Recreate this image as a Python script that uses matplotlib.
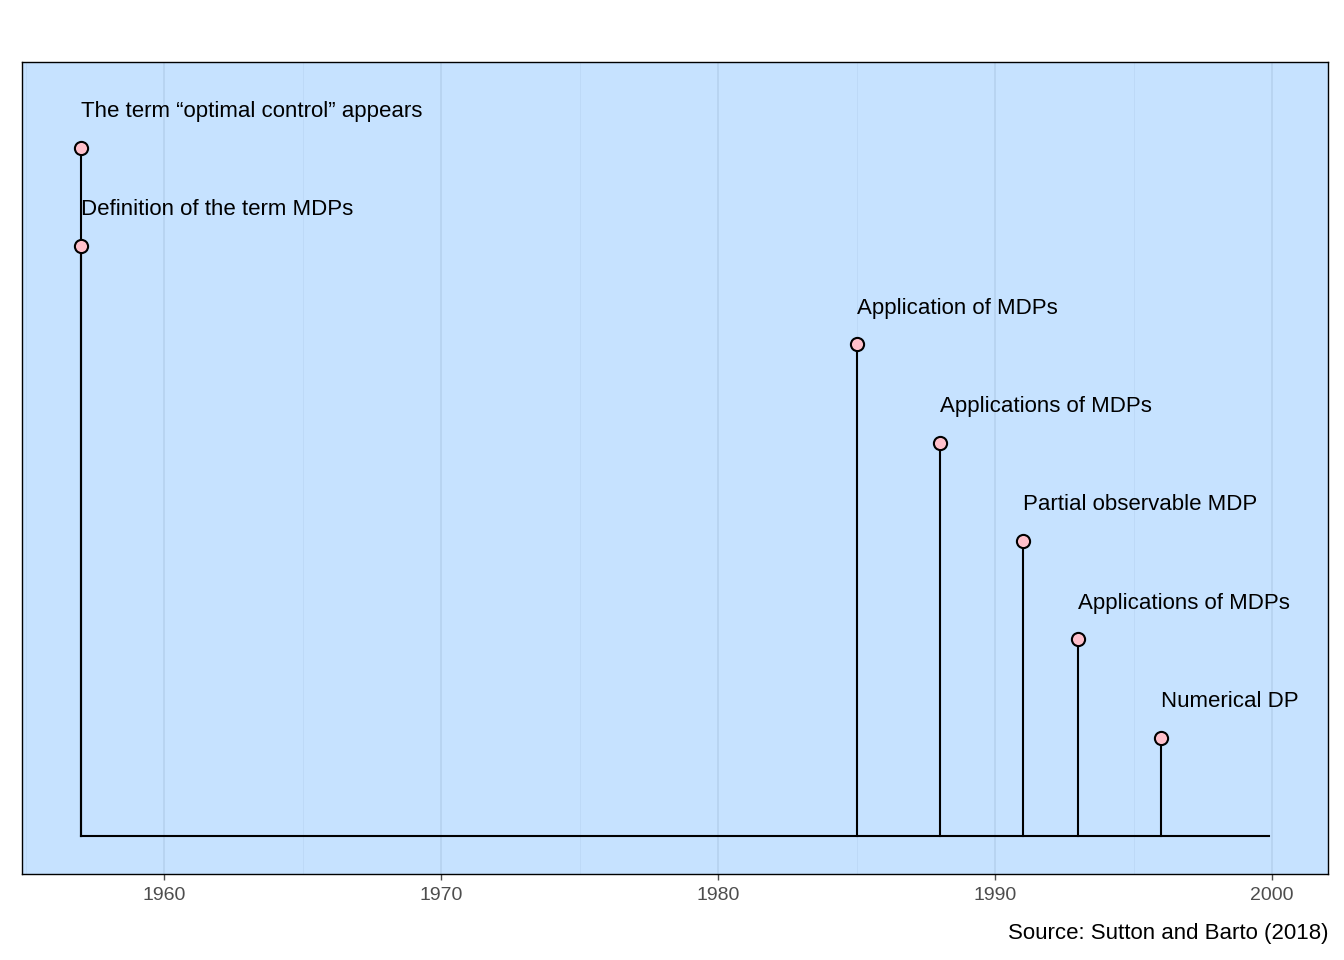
import matplotlib
matplotlib.use("Agg")
import matplotlib.pyplot as plt

plt.rcParams['font.family'] = ['Liberation Sans', 'DejaVu Sans']

years = [1957, 1957, 1985, 1988, 1991, 1993, 1996]
levels = [7, 6, 5, 4, 3, 2, 1]
labels = ['The term \u201coptimal control\u201d appears', 'Definition of the term MDPs',
          'Application of MDPs', 'Applications of MDPs', 'Partial observable MDP',
          'Applications of MDPs', 'Numerical DP']
line_start, line_end = 1957, 1999.9
major_ticks = [1960, 1970, 1980, 1990, 2000]
minor_ticks = [1955, 1965, 1975, 1985, 1995]

fig = plt.figure(figsize=(13.44, 9.6), dpi=100)
ax = fig.add_axes([22/1344, 86/960, 1306/1344, 812/960])
ax.set_facecolor('#C6E2FF')
ax.set_xlim(1954.87, 2002.02)
ax.set_ylim(-0.386, 7.87)

for t in major_ticks:
    ax.axvline(t, color='#B4D0EE', lw=1.1, zorder=0)
for t in minor_ticks:
    ax.axvline(t, color='#BCD8F6', lw=0.6, zorder=0)

ax.plot([line_start, line_end], [0, 0], color='black', lw=1.5, zorder=2)
for yr, lv, lb in zip(years, levels, labels):
    ax.plot([yr, yr], [0, lv], color='black', lw=1.5, zorder=2)
    ax.scatter([yr], [lv], s=90, facecolor='#FFC0CB', edgecolor='black', lw=1.5, zorder=3)
    ax.text(yr, lv + 0.26, lb, fontsize=16, ha='left', va='bottom')

ax.set_xticks(major_ticks)
ax.set_yticks([])
ax.tick_params(axis='x', colors='#4D4D4D', labelsize=14, length=4, width=1, pad=5)
for s in ax.spines.values():
    s.set_color('black')
    s.set_linewidth(1)

fig.text(1328/1344, 1 - 933/960, 'Source: Sutton and Barto (2018)', ha='right', va='center', fontsize=16)
fig.savefig('out.png', dpi=100)
